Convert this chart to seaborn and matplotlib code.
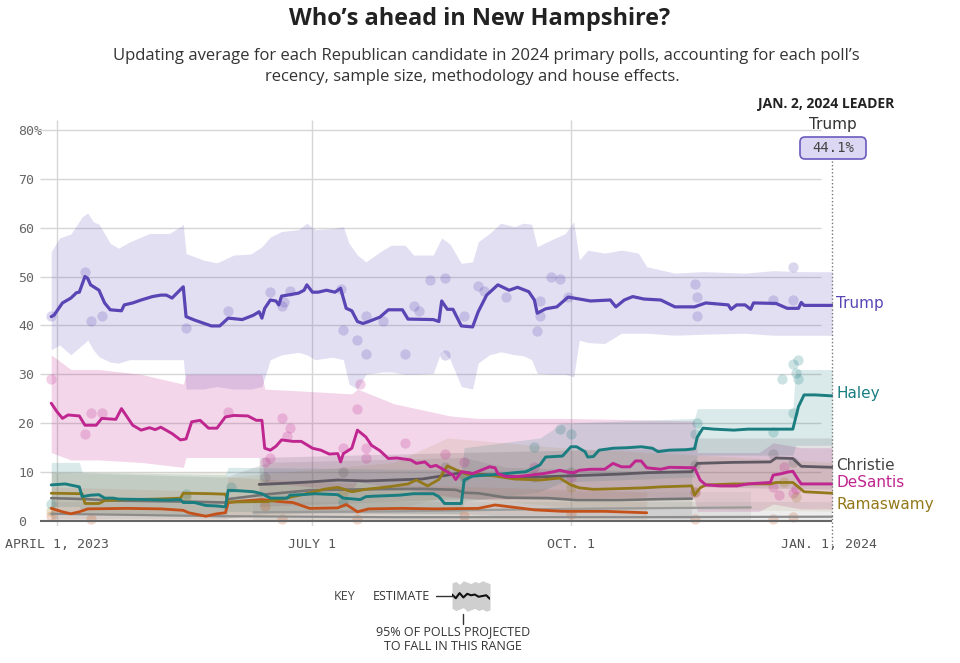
import numpy as np
import pandas as pd
import matplotlib
matplotlib.use("Agg")
import matplotlib.pyplot as plt
from matplotlib.patches import FancyBboxPatch
from matplotlib.transforms import IdentityTransform
from matplotlib.lines import Line2D
import seaborn as sns

# ---------------- data (day 0 = April 1, 2023) ----------------
tick_days = [0, 91, 183, 275]
tick_labels = ["APRIL 1, 2023", "JULY 1", "OCT. 1", "JAN. 1, 2024"]
y_ticks = [0, 10, 20, 30, 40, 50, 60, 70, 80]
y_labels = ["0", "10", "20", "30", "40", "50", "60", "70", "80%"]

trump_days = [-2, -1, 2, 5, 7, 8, 10, 11, 12, 15,
              17, 19, 23, 24, 27, 30, 34, 37, 39, 41,
              45, 46, 49, 51, 55, 58, 61, 66, 70, 72,
              73, 74, 76, 78, 79, 80, 86, 88, 89, 91,
              93, 96, 99, 101, 103, 105, 107, 109, 111, 115,
              118, 123, 125, 134, 136, 137, 139, 141, 144, 148,
              150, 153, 157, 161, 164, 168, 170, 171, 174, 178,
              182, 190, 197, 199, 202, 205, 209, 215, 220, 227,
              231, 239, 240, 242, 245, 247, 248, 256, 260, 264,
              265, 266, 276]
trump_vals = [41.8, 42.1, 44.6, 45.6, 46.7, 46.8, 50.0, 49.6, 48.3, 47.2,
              44.6, 43.2, 43.0, 44.2, 44.6, 45.2, 45.9, 46.2, 46.2, 45.6,
              47.9, 41.8, 41.1, 40.7, 39.9, 39.9, 41.5, 41.2, 42.1, 42.8,
              41.5, 43.5, 45.2, 45.0, 44.2, 46.0, 46.6, 47.2, 48.3, 46.8,
              46.8, 47.2, 46.8, 47.6, 43.5, 43.0, 40.8, 40.4, 40.8, 41.7,
              43.2, 43.2, 41.3, 41.2, 40.8, 45.0, 43.3, 43.3, 39.9, 39.7,
              42.8, 46.2, 48.3, 47.2, 47.8, 46.9, 45.2, 42.5, 43.4, 43.8,
              45.8, 45.0, 45.2, 43.8, 45.2, 45.9, 45.4, 45.2, 43.8, 43.8,
              44.6, 44.2, 43.3, 44.2, 44.2, 43.3, 44.6, 44.5, 43.5, 43.5,
              44.7, 44.1, 44.1]
trump_band_days = [-2, 1, 5, 9, 11, 13, 15, 19, 22, 26,
                   33, 40, 44, 45, 46, 52, 57, 63, 69, 73,
                   76, 80, 86, 89, 92, 98, 102, 104, 107, 110,
                   116, 119, 124, 127, 134, 137, 140, 144, 148, 150,
                   154, 158, 163, 166, 169, 171, 176, 181, 184, 186,
                   189, 195, 201, 207, 210, 220, 230, 245, 255, 265,
                   276]
trump_hi = [55.1, 57.9, 58.7, 62.2, 63.0, 61.2, 60.7, 56.8, 55.8, 57.1,
            58.8, 58.8, 60.2, 60.7, 54.7, 53.4, 52.8, 54.4, 54.6, 56.1,
            58.1, 59.2, 59.6, 60.9, 59.6, 59.8, 60.2, 56.8, 54.4, 53.0,
            55.4, 56.4, 56.4, 54.4, 54.4, 57.9, 56.6, 52.7, 53.0, 57.1,
            58.8, 60.9, 60.2, 60.9, 60.7, 56.1, 57.5, 58.8, 61.2, 53.4,
            55.4, 54.8, 55.4, 54.8, 52.0, 50.7, 51.0, 50.7, 51.2, 51.0,
            51.0]
trump_lo = [35.0, 36.0, 34.0, 36.0, 37.0, 35.0, 33.6, 32.5, 32.3, 33.0,
            33.0, 33.0, 33.0, 33.0, 27.0, 27.0, 27.5, 27.0, 27.0, 27.5,
            33.0, 34.0, 34.5, 34.0, 33.0, 33.5, 33.0, 28.0, 27.0, 30.0,
            30.5, 30.5, 30.0, 30.0, 30.2, 35.0, 33.0, 27.5, 27.0, 32.3,
            34.0, 34.6, 34.0, 33.8, 33.0, 30.2, 30.0, 30.0, 29.5, 37.0,
            36.5, 36.3, 38.4, 38.4, 38.4, 38.0, 38.2, 38.4, 38.0, 38.0,
            38.0]

desantis_days = [-2, 0, 2, 4, 8, 10, 14, 16, 21, 23,
                 27, 30, 33, 35, 37, 41, 44, 46, 48, 51,
                 54, 57, 60, 63, 68, 71, 73, 74, 76, 78,
                 80, 84, 87, 91, 94, 97, 100, 101, 102, 105,
                 107, 110, 112, 115, 118, 121, 126, 128, 131, 133,
                 135, 138, 141, 142, 144, 148, 151, 154, 156, 157,
                 160, 164, 173, 177, 179, 182, 184, 186, 190, 195,
                 198, 201, 204, 206, 208, 210, 215, 218, 227, 229,
                 231, 236, 242, 246, 254, 255, 258, 260, 262, 264,
                 265, 276]
desantis_vals = [24.1, 22.4, 21.0, 21.7, 21.5, 19.6, 19.6, 21.0, 20.8, 23.0,
                 19.6, 18.6, 19.1, 18.7, 19.2, 17.9, 16.6, 16.8, 20.3, 20.6,
                 19.0, 19.0, 21.3, 21.6, 21.5, 20.6, 20.6, 14.9, 14.5, 15.3,
                 16.6, 16.3, 16.3, 14.9, 14.5, 13.7, 13.8, 12.1, 13.8, 14.9,
                 18.6, 17.2, 15.5, 14.4, 12.8, 12.9, 12.5, 11.8, 12.1, 11.1,
                 11.4, 10.4, 9.4, 8.5, 10.1, 9.7, 10.4, 11.1, 10.9, 9.7,
                 9.1, 9.1, 9.7, 10.1, 10.4, 10.0, 9.9, 10.4, 10.6, 10.6,
                 11.8, 11.1, 11.1, 12.3, 12.3, 10.9, 10.6, 11.0, 10.9, 8.4,
                 7.4, 7.2, 7.2, 7.6, 7.9, 9.4, 9.7, 10.0, 10.2, 8.4,
                 7.6, 7.6]
desantis_band_days = [-2, 5, 15, 30, 45, 46, 73, 74, 90, 105,
                      107, 120, 140, 150, 180, 227, 228, 250, 255, 265,
                      276]
desantis_hi = [34.0, 31.0, 31.0, 30.0, 28.0, 30.0, 30.0, 27.0, 26.5, 26.0,
               27.0, 24.0, 21.5, 21.0, 21.0, 20.5, 14.0, 14.0, 16.0, 15.0,
               15.0]
desantis_lo = [14.0, 12.5, 12.5, 12.0, 11.0, 13.0, 13.0, 8.0, 7.0, 6.5,
               8.0, 7.0, 5.0, 4.5, 4.5, 4.5, 2.0, 2.0, 3.5, 2.5,
               2.5]

haley_days = [-2, 3, 8, 9, 12, 15, 17, 20, 22, 33,
              39, 44, 45, 49, 53, 57, 60, 61, 65, 70,
              73, 76, 82, 83, 87, 92, 100, 102, 108, 110,
              113, 122, 127, 134, 136, 138, 144, 145, 148, 153,
              158, 163, 167, 172, 174, 180, 183, 185, 188, 189,
              191, 193, 198, 203, 208, 212, 214, 218, 224, 227,
              228, 230, 234, 241, 246, 262, 264, 266, 270, 276]
haley_vals = [7.4, 7.6, 7.0, 5.0, 5.3, 5.4, 4.7, 4.7, 4.5, 4.4,
              4.3, 4.4, 3.8, 3.8, 3.2, 3.1, 2.9, 6.3, 6.2, 6.0,
              5.6, 4.7, 4.7, 5.3, 5.4, 5.6, 5.4, 4.7, 4.4, 5.0,
              5.1, 5.3, 5.6, 5.6, 5.0, 3.6, 3.6, 8.4, 9.2, 9.4,
              9.6, 9.9, 10.1, 11.5, 13.1, 13.3, 15.2, 15.2, 14.2, 13.1,
              13.2, 14.5, 14.9, 15.0, 15.2, 14.9, 14.2, 14.5, 14.6, 14.8,
              17.2, 19.0, 18.8, 18.6, 18.8, 18.8, 23.4, 25.8, 25.8, 25.6]
haley_band_days = [-2, 8, 9, 60, 61, 144, 145, 172, 180, 227, 228, 262, 263, 276]
haley_hi = [12.0, 12.0, 10.0, 9.5, 11.0, 10.5, 15.0, 17.0, 20.0, 21.0, 23.0, 23.0, 31.0, 31.0]
haley_lo = [3.0, 3.0, 1.5, 0.8, 2.0, 1.5, 4.0, 6.0, 8.0, 9.0, 13.5, 13.5, 15.5, 15.5]

christie_days = [72, 80, 90, 100, 110, 120, 130, 140, 145, 150,
                 160, 170, 180, 190, 200, 210, 226, 228, 240, 254,
                 256, 262, 265, 276]
christie_vals = [7.5, 7.7, 8.0, 8.4, 8.2, 8.4, 8.6, 9.5, 10.0, 9.6,
                 9.2, 9.0, 9.2, 9.4, 9.6, 9.9, 10.1, 11.8, 12.0, 12.1,
                 12.9, 12.8, 11.2, 11.0]
christie_band_days = [72, 140, 227, 228, 276]
christie_hi = [13.0, 14.0, 15.0, 17.0, 17.0]
christie_lo = [3.0, 4.5, 5.0, 7.0, 6.5]

ramaswamy_days = [-2, 9, 10, 15, 17, 25, 35, 44, 45, 55,
                  60, 61, 75, 80, 88, 95, 100, 105, 110, 118,
                  125, 128, 132, 136, 139, 142, 146, 155, 163, 172,
                  179, 183, 186, 191, 198, 209, 215, 226, 227, 229,
                  231, 241, 254, 256, 262, 266, 276]
ramaswamy_vals = [5.7, 5.6, 3.6, 3.6, 4.2, 4.4, 4.5, 4.7, 5.7, 5.6,
                  5.5, 3.9, 4.0, 4.5, 5.5, 6.5, 6.9, 6.0, 6.5, 7.0,
                  7.6, 8.4, 7.2, 8.5, 11.3, 10.5, 9.6, 9.3, 8.6, 8.4,
                  8.8, 7.4, 6.8, 6.5, 6.6, 6.8, 7.0, 7.2, 5.3, 6.8,
                  7.4, 7.6, 7.6, 7.9, 7.9, 6.0, 5.7]
ramaswamy_band_days = [-2, 60, 61, 120, 139, 180, 276]
ramaswamy_hi = [10.0, 10.0, 9.0, 12.0, 17.0, 15.0, 12.0]
ramaswamy_lo = [1.5, 1.5, 0.8, 2.5, 5.0, 3.0, 2.0]

pence_days = [-2, 2, 5, 8, 11, 25, 37, 45, 47, 53,
              57, 60, 61, 66, 73, 79, 84, 90, 100, 103,
              107, 111, 123, 135, 150, 156, 170, 180, 195, 210]
pence_vals = [2.6, 1.9, 1.5, 1.9, 2.5, 2.6, 2.5, 2.2, 1.7, 1.0,
              1.5, 1.7, 3.8, 4.1, 4.4, 4.0, 3.8, 2.6, 2.7, 3.4,
              1.9, 2.5, 2.6, 2.5, 2.6, 3.3, 2.3, 2.0, 2.0, 1.7]
pence_band_days = [-2, 60, 61, 90, 210]
pence_hi = [7.0, 6.0, 9.0, 8.0, 6.0]
pence_lo = [0.0, 0.0, 0.5, 0.0, 0.0]

scott_days = [-2, 10, 20, 45, 60, 61, 75, 90, 110, 130,
              142, 145, 150, 160, 175, 185, 200, 215, 226]
scott_vals = [4.7, 4.5, 4.2, 4.0, 3.8, 4.5, 5.5, 6.3, 6.5, 6.6,
              6.4, 5.8, 5.7, 4.8, 4.7, 4.3, 4.3, 4.5, 4.6]
scott_band_days = [-2, 60, 75, 145, 160, 226]
scott_hi = [10.0, 9.0, 12.0, 13.0, 11.0, 10.0]
scott_lo = [0.5, 0.5, 1.5, 1.5, 1.0, 0.5]

hutchinson_days = [-2, 60, 120, 200, 276]
hutchinson_vals = [1.5, 1.0, 0.8, 0.8, 0.9]
burgum_days = [70, 120, 180, 247]
burgum_vals = [1.8, 2.0, 2.5, 2.8]

trump_poll_days = [-2, 10, 12, 16, 46, 61, 76, 80, 81, 83,
                   101, 102, 107, 110, 110, 116, 124, 127, 129, 133,
                   138, 138, 145, 150, 152, 160, 171, 172, 172, 176,
                   179, 182, 227, 228, 228, 255, 262, 262]
trump_poll_vals = [41.9, 51.0, 41.0, 41.9, 39.5, 43.0, 46.9, 44.0, 44.7, 47.0,
                   47.4, 39.0, 37.0, 34.1, 41.9, 41.0, 34.1, 44.0, 43.0, 49.3,
                   49.6, 34.0, 41.9, 48.0, 47.0, 45.9, 38.9, 45.0, 42.0, 50.0,
                   49.4, 45.9, 48.5, 45.9, 41.9, 45.2, 52.0, 45.2]
desantis_poll_days = [-2, 10, 12, 16, 61, 74, 76, 80, 83, 82,
                      102, 107, 108, 110, 110, 124, 138, 145, 170, 183,
                      227, 255, 257, 259, 262, 263]
desantis_poll_vals = [29.0, 17.9, 22.0, 22.0, 22.4, 12.1, 13.0, 21.0, 19.0, 17.4,
                      14.9, 22.9, 28.0, 14.9, 13.0, 15.9, 13.8, 12.0, 11.0, 9.0,
                      6.0, 7.0, 5.3, 11.1, 5.7, 6.5]
haley_poll_days = [-2, 46, 62, 102, 145, 170, 179, 183, 227, 228,
                   255, 258, 262, 262, 263, 264, 264]
haley_poll_vals = [3.5, 5.5, 7.0, 4.0, 9.0, 15.2, 18.8, 17.9, 17.9, 20.0,
                   18.3, 29.0, 22.0, 32.2, 30.2, 33.0, 29.0]
christie_poll_days = [74, 102, 138, 170, 183, 227, 255, 262]
christie_poll_vals = [9.0, 10.0, 11.0, 9.0, 10.0, 11.5, 13.8, 12.0]
ramaswamy_poll_days = [-2, 46, 102, 138, 145, 183, 227, 259, 263]
ramaswamy_poll_vals = [2.0, 5.0, 6.0, 10.0, 9.5, 7.0, 6.0, 8.0, 5.0]
pence_poll_days = [-2, 12, 74, 80, 107, 145, 183, 227, 255, 262]
pence_poll_vals = [1.0, 0.5, 3.0, 0.5, 0.5, 1.0, 1.5, 0.5, 0.5, 0.8]

key_x = [0, 1, 2, 3, 4, 5, 6, 7, 8, 9, 10]
key_est = [0.2, -0.3, 0.4, -0.2, 0.3, 0.1, 0.2, -0.1, 0.0, 0.1, -0.4]
key_hi = [1.8, 2.0, 1.6, 2.1, 1.9, 1.7, 2.0, 1.8, 2.1, 1.9, 1.7]
key_lo = [-1.7, -2.0, -1.8, -1.6, -2.1, -1.9, -1.7, -2.0, -1.8, -2.1, -1.9]

# ---------------- styling ----------------
sns.set_style("white")
plt.rcParams['font.family'] = ['DejaVu Sans']

C = {
    "Trump": "#5a45b5",
    "DeSantis": "#c0268f",
    "Haley": "#1a7d80",
    "Christie": "#5e5962",
    "Ramaswamy": "#93791a",
    "Pence": "#c4501a",
    "Scott": "#747474",
    "Hutchinson": "#8c8c8c",
    "Burgum": "#9b9b9b",
}

W, H = 960, 663
fig = plt.figure(figsize=(9.6, 6.63), dpi=100)
fig.patch.set_facecolor("white")
ax = fig.add_axes([40 / W, 1 - 526 / H, 793 / W, 406 / H])
ax.set_xlim(-6, 276.3)
ax.set_ylim(-1, 82)
for s in ax.spines.values():
    s.set_visible(False)

# grid
ax.hlines(y_ticks[1:], -6, 272, color="#d6d6d6", lw=1, zorder=0.5)
ax.vlines(tick_days[:3], -1, 82, color="#d6d6d6", lw=1, zorder=0.5)

# bands
bands = [
    ("Trump", trump_band_days, trump_lo, trump_hi, 0.17),
    ("DeSantis", desantis_band_days, desantis_lo, desantis_hi, 0.19),
    ("Haley", haley_band_days, haley_lo, haley_hi, 0.16),
    ("Christie", christie_band_days, christie_lo, christie_hi, 0.17),
    ("Ramaswamy", ramaswamy_band_days, ramaswamy_lo, ramaswamy_hi, 0.10),
    ("Pence", pence_band_days, pence_lo, pence_hi, 0.10),
    ("Scott", scott_band_days, scott_lo, scott_hi, 0.17),
]
for name, d, lo, hi, a in bands:
    ax.fill_between(d, lo, hi, color=C[name], alpha=a, lw=0, zorder=1)
ax.fill_between(hutchinson_days, 0, 4, color=C["Hutchinson"], alpha=0.15, lw=0, zorder=1)
ax.fill_between(burgum_days, 0, 6, color=C["Burgum"], alpha=0.15, lw=0, zorder=1)

# poll dots
polls = [
    ("Trump", trump_poll_days, trump_poll_vals),
    ("DeSantis", desantis_poll_days, desantis_poll_vals),
    ("Haley", haley_poll_days, haley_poll_vals),
    ("Christie", christie_poll_days, christie_poll_vals),
    ("Ramaswamy", ramaswamy_poll_days, ramaswamy_poll_vals),
    ("Pence", pence_poll_days, pence_poll_vals),
]
for name, d, v in polls:
    sns.scatterplot(x=d, y=v, ax=ax, color=C[name], alpha=0.22, s=55,
                    linewidth=0, zorder=2, legend=False)

# lines
lines = [
    ("Hutchinson", hutchinson_days, hutchinson_vals, 1.6),
    ("Burgum", burgum_days, burgum_vals, 1.6),
    ("Scott", scott_days, scott_vals, 1.9),
    ("Pence", pence_days, pence_vals, 2.0),
    ("Christie", christie_days, christie_vals, 2.0),
    ("Ramaswamy", ramaswamy_days, ramaswamy_vals, 2.0),
    ("Haley", haley_days, haley_vals, 2.1),
    ("DeSantis", desantis_days, desantis_vals, 2.1),
    ("Trump", trump_days, trump_vals, 2.3),
]
for i, (name, d, v, lw) in enumerate(lines):
    df = pd.DataFrame({"day": d, "val": v})
    sns.lineplot(data=df, x="day", y="val", ax=ax, color=C[name], lw=lw,
                 estimator=None, sort=False, zorder=3 + i * 0.1, legend=False)

# baseline
ax.hlines(0, -6, 276, color="#666666", lw=1.5, zorder=5)

# dotted "today" line
ax.plot([276, 276], [-4.9, 74.0], ls=(0, (1, 1.6)), color="#777777", lw=1,
        clip_on=False, zorder=6)

# ticks
ax.set_xticks(tick_days)
ax.set_xticklabels(tick_labels)
ax.set_yticks(y_ticks)
ax.set_yticklabels(y_labels)
ax.set_xlabel("")
ax.set_ylabel("")
ax.tick_params(axis="x", length=0, pad=9, labelsize=9.5, labelcolor="#555555")
ax.tick_params(axis="y", length=0, pad=15.8, labelsize=9.5, labelcolor="#666666")
for lbl in ax.get_yticklabels():
    lbl.set_horizontalalignment("left")
    lbl.set_family("DejaVu Sans Mono")
for lbl in ax.get_xticklabels():
    lbl.set_family("DejaVu Sans Mono")

# right-side labels
end_labels = [("Trump", 44.4), ("Haley", 26.0), ("Christie", 11.4),
              ("DeSantis", 7.8), ("Ramaswamy", 3.3)]
for name, yv in end_labels:
    ax.text(277.5, yv, name, color=C[name] if name != "Christie" else "#444444",
            fontsize=11, va="center", ha="left", clip_on=False)

def px(x, y):
    return x / W, 1 - y / H

# title / subtitle
fig.text(*px(480, 19), "Who\u2019s ahead in New Hampshire?", ha="center", va="center",
         fontsize=16.9, fontweight="bold", family="Open Sans", color="#222222")
fig.text(*px(486, 56), "Updating average for each Republican candidate in 2024 primary polls, accounting for each poll\u2019s",
         ha="center", va="center", fontsize=12.0, family="Open Sans", color="#333333")
fig.text(*px(472, 77), "recency, sample size, methodology and house effects.",
         ha="center", va="center", fontsize=12.0, family="Open Sans", color="#333333")

# leader callout
fig.text(*px(826, 104), "JAN. 2, 2024 LEADER", ha="center", va="center",
         fontsize=10, fontweight="bold", family="Open Sans", color="#222222")
fig.text(*px(833, 124), "Trump", ha="center", va="center", fontsize=11, color="#333333")
box = FancyBboxPatch((800, H - 159), 66, 22, boxstyle="round,pad=0,rounding_size=5",
                     transform=IdentityTransform(), facecolor="#dcd7f3",
                     edgecolor="#6b5bbf", lw=1.2, zorder=10)
fig.add_artist(box)
fig.text(*px(833, 148), "44.1%", ha="center", va="center", fontsize=10,
         family="DejaVu Sans Mono", color="#444444", zorder=11)

# key
fig.text(*px(345, 596), "KEY", ha="center", va="center", fontsize=9, family="Open Sans", color="#444444")
fig.text(*px(373, 596), "ESTIMATE", ha="left", va="center", fontsize=9, family="Open Sans", color="#333333")
fig.add_artist(Line2D([436 / W, 453 / W], [1 - 596 / H, 1 - 596 / H], color="#333333", lw=1))
kax = fig.add_axes([452 / W, 1 - 612 / H, 38 / W, 32 / H])
kax.fill_between(key_x, key_lo, key_hi, color="#cfcfcf", lw=0)
sns.lineplot(x=key_x, y=key_est, ax=kax, color="#111111", lw=1.5, estimator=None, legend=False)
kax.set_xlim(0, 10)
kax.set_ylim(-2.2, 2.2)
kax.axis("off")
fig.add_artist(Line2D([463 / W, 463 / W], [1 - 614 / H, 1 - 624 / H], color="#333333", lw=1))
fig.text(*px(453, 632), "95% OF POLLS PROJECTED", ha="center", va="center", fontsize=9, family="Open Sans", color="#333333")
fig.text(*px(453, 647), "TO FALL IN THIS RANGE", ha="center", va="center", fontsize=9, family="Open Sans", color="#333333")

fig.savefig("out.png", dpi=100, facecolor="white")
